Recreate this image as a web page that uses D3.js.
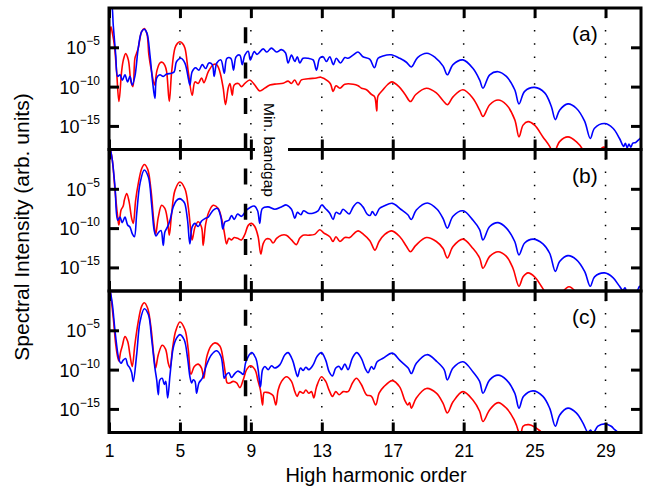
<!DOCTYPE html>
<html>
<head>
<meta charset="utf-8">
<script src="https://cdn.jsdelivr.net/npm/d3@7"></script>
<style>
  body { margin: 0; background: #fff; }
  text { font-family: "Liberation Sans", Arial, Helvetica, sans-serif; fill: #000; }
</style>
</head>
<body>
<div id="chart"></div>
<script>
// [harmonic order, log10 spectral intensity]
var blueA = [[1.0,1],[1.15,0.4],[1.24,-2.2],[1.38,-6],[1.49,-8.7],[1.62,-8.5],[1.75,-9.2],[1.9,-8.5],[2.05,-9.4],[2.18,-8.7],[2.31,-9.8],[2.46,-8.7],[2.65,-5.1],[2.84,-3.0],[2.99,-2.7],[3.14,-3.2],[3.31,-6.0],[3.46,-9.4],[3.59,-11.5],[3.69,-8.9],[3.87,-8.5],[4.06,-8.7],[4.25,-8.4],[4.53,-8.3],[4.68,-8.1],[4.81,-6.8],[5.06,-6.4],[5.28,-7.0],[5.47,-8.9],[5.56,-9.8],[5.69,-8.1],[5.88,-7.6],[6.07,-7.9],[6.26,-7.2],[6.45,-7.7],[6.63,-7.0],[6.82,-7.2],[6.93,-8.7],[7.08,-7.0],[7.31,-6.6],[7.5,-8.3],[7.65,-6.4],[7.87,-6.4],[8.02,-7.9],[8.17,-6.2],[8.38,-6.0],[8.51,-7.2],[8.66,-6.0],[8.85,-5.5],[8.97,-6.6],[9.19,-5.55],[9.35,-5.9],[9.69,-5.2],[9.9,-5.6],[10.16,-5.1],[10.45,-5.6],[10.72,-5.3],[10.95,-5.7],[11.1,-7.0],[11.29,-6.0],[11.48,-6.8],[11.62,-6.2],[11.76,-7.0],[11.94,-6.4],[12.23,-6.4],[12.51,-6.6],[12.7,-7.9],[12.88,-6.4],[13.07,-6.2],[13.26,-6.8],[13.45,-6.2],[13.65,-7.2],[13.82,-6.4],[14.05,-7.0],[14.3,-6.3],[14.48,-6.4],[14.76,-6.0],[15.04,-5.6],[15.32,-6.2],[15.7,-6.5],[15.97,-7.6],[16.17,-6.4],[16.45,-6.1],[16.9,-5.95],[17.4,-6.4],[17.77,-6.9],[18.05,-7.5],[18.4,-6.3],[18.93,-5.75],[19.4,-6.3],[19.84,-7.4],[20.08,-8.5],[20.4,-7.2],[20.96,-6.6],[21.53,-7.7],[21.9,-9.15],[22.09,-10.2],[22.47,-8.5],[22.94,-8.1],[23.41,-8.7],[23.88,-10.4],[24.12,-12.2],[24.44,-10.6],[25.0,-10.1],[25.57,-10.8],[25.94,-12.5],[26.17,-14.2],[26.41,-13.0],[26.88,-12.2],[27.35,-12.75],[27.82,-14.4],[28.14,-16.6],[28.38,-15.3],[28.95,-14.7],[29.42,-15.3],[29.79,-16.6],[30.02,-17.6],[30.12,-17.2],[30.22,-17.8],[30.32,-17.3],[30.42,-17.7],[30.54,-17.2],[30.7,-17.1],[30.85,-16.8],[31,-16.5]];
var redA = [[1.0,-7.2],[1.05,-3.2],[1.11,-2.4],[1.2,-3.3],[1.3,-4.7],[1.43,-8.1],[1.56,-11.9],[1.71,-8.1],[1.81,-6.6],[1.94,-5.8],[2.09,-6.6],[2.24,-9.4],[2.35,-10.0],[2.46,-6.4],[2.55,-5.8],[2.65,-5.1],[2.84,-3.0],[2.99,-2.6],[3.14,-3.3],[3.25,-6.0],[3.4,-8.1],[3.57,-9.8],[3.7,-8.0],[3.87,-7.0],[4.0,-6.9],[4.15,-7.3],[4.25,-8.1],[4.4,-11.9],[4.53,-8.2],[4.72,-5.1],[4.86,-4.5],[5.0,-4.3],[5.14,-4.5],[5.28,-5.1],[5.47,-8.1],[5.69,-11.1],[5.85,-9.4],[6.03,-9.6],[6.22,-8.9],[6.35,-9.5],[6.6,-8.1],[6.88,-7.2],[7.07,-7.2],[7.25,-8.1],[7.44,-10.2],[7.57,-12.3],[7.72,-10.2],[7.82,-9.6],[7.95,-11.1],[8.06,-9.8],[8.29,-9.6],[8.47,-10.0],[8.66,-9.6],[8.94,-9.15],[9.22,-9.8],[9.5,-10.55],[9.78,-10.2],[10.07,-9.8],[10.44,-9.66],[10.82,-9.58],[11.1,-9.3],[11.29,-9.6],[11.47,-9.15],[11.66,-9.8],[11.85,-9.15],[12.23,-9.0],[12.7,-8.9],[12.95,-8.8],[13.35,-9.3],[13.5,-9.7],[13.64,-10.6],[13.8,-9.9],[14.02,-10.2],[14.3,-9.7],[14.77,-9.7],[15.05,-9.9],[15.24,-10.2],[15.52,-10.4],[15.8,-11.0],[15.98,-11.3],[16.1,-13.1],[16.17,-11.2],[16.45,-10.4],[16.73,-9.7],[16.95,-9.4],[17.35,-10.0],[17.7,-11.0],[18.0,-11.9],[18.3,-11.0],[18.9,-10.2],[19.46,-10.8],[19.84,-11.8],[20.08,-12.3],[20.4,-11.3],[20.96,-10.4],[21.53,-11.5],[21.9,-13.0],[22.09,-13.8],[22.47,-12.3],[22.94,-11.7],[23.41,-12.3],[23.88,-14.2],[24.12,-16.4],[24.35,-14.9],[24.63,-14.45],[25.0,-14.9],[25.47,-16.4],[25.85,-17.6],[26.06,-18.6],[26.41,-17.0],[26.88,-16.4],[27.35,-17.0],[27.73,-18.05],[28.1,-20],[28.5,-18.6],[28.9,-17.7],[29.3,-18.6],[29.6,-20],[31,-21]];

var blueB = [[1.0,1],[1.06,0.3],[1.19,-1.4],[1.34,-4.8],[1.49,-9.0],[1.62,-8.6],[1.75,-9.3],[1.9,-8.6],[2.05,-9.6],[2.18,-9.85],[2.31,-10.7],[2.43,-11.1],[2.56,-8.2],[2.75,-4.3],[2.99,-2.6],[3.22,-3.5],[3.4,-6.9],[3.55,-10.3],[3.65,-11.0],[3.78,-10.6],[3.93,-10.3],[4.06,-12.2],[4.15,-10.5],[4.3,-9.85],[4.44,-9.0],[4.62,-7.3],[4.8,-6.5],[5.0,-6.25],[5.2,-6.6],[5.28,-6.9],[5.43,-9.0],[5.56,-12.0],[5.69,-9.85],[5.85,-9.4],[6.03,-9.8],[6.22,-9.1],[6.41,-8.8],[6.6,-8.6],[6.88,-7.7],[7.12,-7.5],[7.31,-8.6],[7.42,-10.1],[7.54,-9.2],[7.76,-9.0],[7.91,-8.4],[8.06,-8.9],[8.25,-8.2],[8.47,-8.5],[8.76,-7.7],[8.94,-7.4],[9.19,-7.2],[9.38,-7.8],[9.5,-9.4],[9.65,-7.5],[9.97,-7.3],[10.35,-7.6],[10.72,-7.3],[11.0,-7.05],[11.29,-7.6],[11.48,-8.75],[11.62,-8.0],[11.82,-8.3],[11.97,-7.8],[12.23,-8.1],[12.5,-8.1],[12.79,-7.8],[13.0,-7.05],[13.2,-7.5],[13.45,-8.1],[13.64,-8.9],[13.8,-8.0],[14.02,-8.2],[14.2,-7.6],[14.54,-8.2],[14.77,-7.3],[15.03,-6.75],[15.32,-7.3],[15.55,-8.2],[15.72,-8.4],[15.85,-7.9],[16.02,-8.4],[16.25,-7.5],[16.5,-7.2],[16.98,-6.85],[17.45,-7.6],[17.85,-8.3],[18.05,-8.9],[18.33,-7.7],[18.95,-6.8],[19.5,-7.6],[19.84,-8.8],[20.08,-10.0],[20.4,-8.5],[20.96,-7.8],[21.53,-9.0],[21.9,-10.2],[22.09,-11.5],[22.47,-9.8],[22.94,-9.3],[23.41,-10.0],[23.88,-11.7],[24.12,-13.4],[24.44,-11.9],[24.91,-11.4],[25.47,-12.0],[25.85,-13.2],[26.17,-15.5],[26.41,-14.26],[26.88,-13.5],[27.35,-14.0],[27.82,-15.5],[28.14,-17.4],[28.38,-16.2],[28.95,-15.7],[29.42,-16.3],[29.79,-17.4],[29.98,-17.9],[30.1,-17.6],[30.2,-18.1],[30.35,-18.3],[30.6,-18.2],[30.8,-17.9],[30.92,-17.4],[31,-17.6]];
var redB = [[1.0,1],[1.06,0.3],[1.19,-1.4],[1.34,-5.2],[1.49,-8.6],[1.56,-9.6],[1.68,-7.7],[1.8,-7.2],[1.87,-6.4],[2.0,-5.6],[2.13,-6.6],[2.28,-8.8],[2.37,-9.4],[2.5,-6.5],[2.65,-4.34],[2.84,-2.44],[2.99,-1.9],[3.18,-2.5],[3.37,-5.2],[3.52,-9.0],[3.63,-10.8],[3.78,-8.6],[3.97,-7.1],[4.15,-7.5],[4.3,-9.0],[4.4,-10.9],[4.53,-8.2],[4.72,-5.2],[5.0,-4.13],[5.28,-5.0],[5.47,-7.3],[5.62,-10.5],[5.69,-11.5],[5.85,-9.85],[6.03,-9.2],[6.22,-9.9],[6.31,-12.2],[6.45,-9.5],[6.63,-7.95],[6.88,-7.1],[7.16,-7.5],[7.35,-8.8],[7.5,-10.5],[7.63,-12.0],[7.76,-11.3],[7.91,-11.5],[8.06,-11.2],[8.25,-11.3],[8.47,-11.5],[8.66,-10.8],[8.85,-9.65],[9.04,-9.4],[9.22,-9.8],[9.41,-11.1],[9.56,-13.3],[9.69,-12.0],[9.85,-11.4],[10.07,-11.4],[10.25,-11.9],[10.45,-11.3],[10.72,-10.9],[11.0,-10.9],[11.29,-11.5],[11.57,-12.1],[11.75,-11.3],[11.94,-10.9],[12.23,-10.9],[12.6,-10.8],[12.88,-10.2],[13.1,-10.6],[13.45,-11.1],[13.63,-11.7],[13.8,-11.1],[14.02,-11.7],[14.3,-11.2],[14.58,-11.2],[14.86,-10.6],[15.05,-10.35],[15.35,-10.8],[15.71,-11.6],[16.0,-12.8],[16.23,-11.7],[16.55,-10.8],[16.95,-10.35],[17.4,-11.1],[17.77,-12.3],[18.0,-13.0],[18.3,-12.2],[18.9,-11.2],[19.46,-11.7],[19.84,-12.6],[20.08,-13.8],[20.4,-12.35],[20.96,-11.4],[21.53,-12.6],[21.9,-13.8],[22.09,-15.1],[22.47,-13.6],[22.94,-13.0],[23.41,-13.6],[23.78,-15.1],[24.12,-17.4],[24.35,-16.2],[24.63,-15.7],[25.0,-16.2],[25.38,-17.4],[25.57,-18.1],[25.9,-20],[26.5,-18.3],[26.94,-17.45],[27.4,-18.3],[27.8,-20],[31,-21]];

var blueC = [[1.0,1],[1.06,0.2],[1.19,-1.7],[1.34,-5.1],[1.49,-7.9],[1.56,-8.7],[1.68,-9.2],[1.8,-8.8],[1.94,-8.6],[2.05,-9.4],[2.18,-9.8],[2.28,-10.4],[2.37,-11.5],[2.56,-8.1],[2.75,-3.9],[2.99,-2.25],[3.22,-3.0],[3.4,-6.0],[3.59,-9.8],[3.69,-11.3],[3.78,-13.2],[3.87,-11.3],[4.0,-11.1],[4.12,-11.9],[4.2,-11.5],[4.31,-13.6],[4.44,-10.7],[4.62,-7.25],[4.81,-6.0],[5.0,-5.55],[5.24,-6.2],[5.43,-8.5],[5.56,-10.85],[5.66,-11.7],[5.75,-11.3],[5.85,-11.5],[5.94,-13.0],[6.07,-11.7],[6.26,-11.1],[6.5,-9.4],[6.78,-8.1],[7.07,-7.6],[7.31,-8.3],[7.44,-10.2],[7.5,-11.1],[7.63,-10.6],[7.76,-10.4],[7.91,-11.0],[8.06,-10.6],[8.25,-10.2],[8.44,-10.4],[8.57,-10.6],[8.72,-9.0],[9.04,-7.84],[9.28,-8.56],[9.41,-10.0],[9.54,-12.2],[9.66,-10.0],[9.79,-9.6],[9.98,-10.0],[10.16,-9.5],[10.35,-9.8],[10.63,-9.4],[10.92,-8.1],[11.1,-7.84],[11.35,-8.8],[11.53,-10.25],[11.63,-10.9],[11.8,-9.8],[11.95,-10.1],[12.1,-9.7],[12.27,-10.0],[12.51,-9.4],[12.74,-8.3],[12.98,-7.84],[13.22,-8.8],[13.41,-10.25],[13.6,-10.8],[13.79,-9.8],[13.98,-9.6],[14.11,-10.0],[14.3,-9.3],[14.48,-10.0],[14.73,-8.5],[14.97,-7.84],[15.23,-8.56],[15.48,-10.0],[15.61,-10.4],[15.8,-9.6],[15.93,-9.96],[16.12,-9.0],[16.45,-8.56],[16.98,-7.9],[17.39,-8.8],[17.87,-9.8],[18.05,-10.5],[18.33,-9.2],[18.93,-8.1],[19.5,-9.0],[19.9,-10.0],[20.08,-11.3],[20.4,-9.8],[20.96,-9.0],[21.53,-10.3],[21.9,-11.5],[22.09,-13.0],[22.47,-11.3],[22.94,-10.7],[23.41,-11.3],[23.88,-13.0],[24.12,-14.9],[24.38,-13.4],[24.91,-12.7],[25.47,-13.4],[25.85,-14.9],[26.17,-17.2],[26.41,-15.8],[26.88,-14.9],[27.35,-15.5],[27.73,-16.8],[28.01,-18.0],[28.15,-17.7],[28.3,-18.1],[28.57,-17.2],[28.95,-16.9],[29.32,-17.2],[29.5,-17.6],[29.7,-18.0],[29.9,-18.5],[30.5,-19.5],[31,-19.5]];
var redC = [[1.0,1],[1.06,0.2],[1.24,-3.4],[1.38,-6.8],[1.48,-8.3],[1.56,-8.9],[1.65,-7.8],[1.75,-7.0],[1.9,-5.8],[2.05,-6.4],[2.18,-8.1],[2.31,-9.6],[2.46,-6.8],[2.65,-3.9],[2.84,-1.95],[2.99,-1.5],[3.18,-2.2],[3.37,-4.7],[3.52,-8.1],[3.63,-9.8],[3.78,-8.1],[4.0,-6.9],[4.19,-7.4],[4.34,-9.15],[4.44,-9.8],[4.59,-7.2],[4.76,-5.1],[5.0,-3.94],[5.28,-4.9],[5.47,-7.46],[5.62,-10.6],[5.81,-9.6],[6.03,-9.3],[6.22,-9.8],[6.35,-11.1],[6.5,-8.5],[6.75,-7.0],[6.97,-6.6],[7.25,-7.0],[7.44,-8.7],[7.57,-10.6],[7.67,-11.7],[7.82,-11.7],[8.0,-11.5],[8.2,-11.7],[8.38,-12.3],[8.57,-11.3],[8.76,-10.0],[8.98,-9.5],[9.23,-10.0],[9.41,-11.5],[9.54,-12.6],[9.66,-14.5],[9.75,-12.9],[9.88,-12.9],[10.07,-13.0],[10.25,-13.3],[10.41,-14.5],[10.54,-12.6],[10.73,-11.5],[11.01,-10.9],[11.29,-11.5],[11.48,-12.8],[11.61,-13.4],[11.76,-12.8],[11.95,-13.0],[12.1,-12.6],[12.27,-13.0],[12.42,-12.8],[12.55,-13.6],[12.7,-12.2],[12.98,-10.9],[13.22,-11.5],[13.41,-12.6],[13.6,-13.4],[13.79,-12.8],[13.98,-13.2],[14.2,-12.8],[14.48,-12.8],[14.73,-11.7],[14.95,-11.1],[15.23,-11.9],[15.52,-13.2],[15.8,-13.4],[16.04,-14.5],[16.23,-13.0],[16.49,-12.2],[16.98,-11.4],[17.39,-12.2],[17.68,-13.9],[17.85,-14.5],[17.95,-14.2],[18.05,-14.9],[18.33,-13.6],[18.9,-12.4],[19.46,-13.0],[19.84,-14.3],[20.08,-15.5],[20.4,-14.1],[20.96,-12.8],[21.53,-13.9],[21.9,-15.3],[22.09,-16.6],[22.47,-15.1],[22.94,-14.2],[23.41,-14.9],[23.85,-16.4],[24.12,-18.1],[24.2,-19],[24.35,-17.2],[24.68,-17.0],[25.0,-17.3],[25.43,-18.1],[25.7,-19.5],[31,-21]];

var harmonicTicks = [1, 5, 9, 13, 17, 21, 25, 29];
var gridOrders = [5, 9, 13, 17, 21, 25, 29];
var intensityTicks = [1e-5, 1e-10, 1e-15];
var panelNames = ['(a)', '(b)', '(c)'];
var blueSeries = [blueA, blueB, blueC];
var redSeries = [redA, redB, redC];
var bandgapOrder = 8.7;

var w = 651;
var h = 489;
var left = 109;
var right = 641;
var top0 = 8;
var panelH = 141.5;

var svg = d3
  .select('#chart')
  .append('svg')
  .attr('width', w)
  .attr('height', h);

var x = d3.scaleLinear().domain([1, 31]).range([left, right]);

panelNames.forEach(function (name, i) {
  var top = top0 + i * panelH;
  var bottom = top + panelH;
  var y = d3.scaleLog().domain([1e-18, 1]).range([bottom, top]);
  var g = svg.append('g');

  svg
    .append('clipPath')
    .attr('id', 'clip' + i)
    .append('rect')
    .attr('x', left)
    .attr('y', top)
    .attr('width', right - left)
    .attr('height', panelH);

  // dotted guides at the odd harmonics
  g.selectAll('.grid')
    .data(gridOrders)
    .enter()
    .append('line')
    .attr('x1', function (d) { return x(d); })
    .attr('x2', function (d) { return x(d); })
    .attr('y1', top + 8.7)
    .attr('y2', bottom)
    .attr('stroke', '#000')
    .attr('stroke-width', 1.5)
    .attr('stroke-dasharray', '1.5,11.8');

  var line = d3
    .line()
    .x(function (d) { return x(d[0]); })
    .y(function (d) { return y(Math.pow(10, d[1])); })
    .curve(d3.curveCatmullRom.alpha(0.5));

  g.append('path')
    .datum(redSeries[i])
    .attr('d', line)
    .attr('clip-path', 'url(#clip' + i + ')')
    .attr('fill', 'none')
    .attr('stroke', '#ff0000')
    .attr('stroke-width', 1.6);

  g.append('path')
    .datum(blueSeries[i])
    .attr('d', line)
    .attr('clip-path', 'url(#clip' + i + ')')
    .attr('fill', 'none')
    .attr('stroke', '#0000ff')
    .attr('stroke-width', 1.6);

  // inward ticks on all four sides
  var axes = [
    { ax: d3.axisLeft(y).tickValues(intensityTicks), t: 'translate(' + left + ',0)' },
    { ax: d3.axisRight(y).tickValues(intensityTicks), t: 'translate(' + right + ',0)' },
    { ax: d3.axisTop(x).tickValues(harmonicTicks), t: 'translate(0,' + top + ')' },
    { ax: d3.axisBottom(x).tickValues(harmonicTicks), t: 'translate(0,' + bottom + ')' }
  ];
  axes.forEach(function (a, k) {
    var showLabels = k === 3 && i === 2;
    var ag = g.append('g')
      .attr('transform', a.t)
      .call(a.ax.tickSize(-10).tickFormat(showLabels ? d3.format('d') : ''));
    ag.select('.domain').remove();
    ag.selectAll('line').attr('stroke', '#000').attr('stroke-width', 3);
    if (showLabels) {
      ag.selectAll('text')
        .attr('y', 24)
        .attr('dy', 0)
        .attr('font-size', '17.5px')
        .attr('font-family', '"Liberation Sans", Arial, sans-serif')
        .attr('fill', '#000');
    }
  });

  // log tick labels with superscript exponents
  var lab = g.selectAll('.ylab')
    .data(intensityTicks)
    .enter()
    .append('text')
    .attr('x', 100)
    .attr('y', function (d) { return y(d) + 7; })
    .attr('text-anchor', 'end')
    .attr('font-size', '18px');
  lab.append('tspan').text('10');
  lab.append('tspan')
    .attr('dy', -9)
    .attr('font-size', '12px')
    .text(function (d) { return '\u2212' + Math.round(-Math.log10(d)); });

  g.append('rect')
    .attr('x', left)
    .attr('y', top)
    .attr('width', right - left)
    .attr('height', panelH)
    .attr('fill', 'none')
    .attr('stroke', '#000')
    .attr('stroke-width', 3);

  g.append('text')
    .attr('x', 572)
    .attr('y', top + 33)
    .attr('font-size', '21px')
    .text(name);
});

// minimum bandgap marker
svg.append('line')
  .attr('x1', x(bandgapOrder))
  .attr('x2', x(bandgapOrder))
  .attr('y1', top0)
  .attr('y2', top0 + 3 * panelH)
  .attr('stroke', '#000')
  .attr('stroke-width', 3.5)
  .attr('stroke-dasharray', '16,19.3')
  .attr('stroke-dashoffset', 16);

svg.append('rect')
  .attr('x', 255)
  .attr('y', 98)
  .attr('width', 33)
  .attr('height', 98)
  .attr('fill', '#fff');

svg.append('text')
  .attr('transform', 'translate(264,103) rotate(90)')
  .attr('font-size', '15.5px')
  .text('Min. bandgap');

svg.append('text')
  .attr('x', 376)
  .attr('y', 482)
  .attr('text-anchor', 'middle')
  .attr('font-size', '20px')
  .text('High harmonic order');

svg.append('text')
  .attr('transform', 'translate(29,227) rotate(-90)')
  .attr('text-anchor', 'middle')
  .attr('font-size', '21px')
  .text('Spectral Intensity (arb. units)');
</script>
</body>
</html>
